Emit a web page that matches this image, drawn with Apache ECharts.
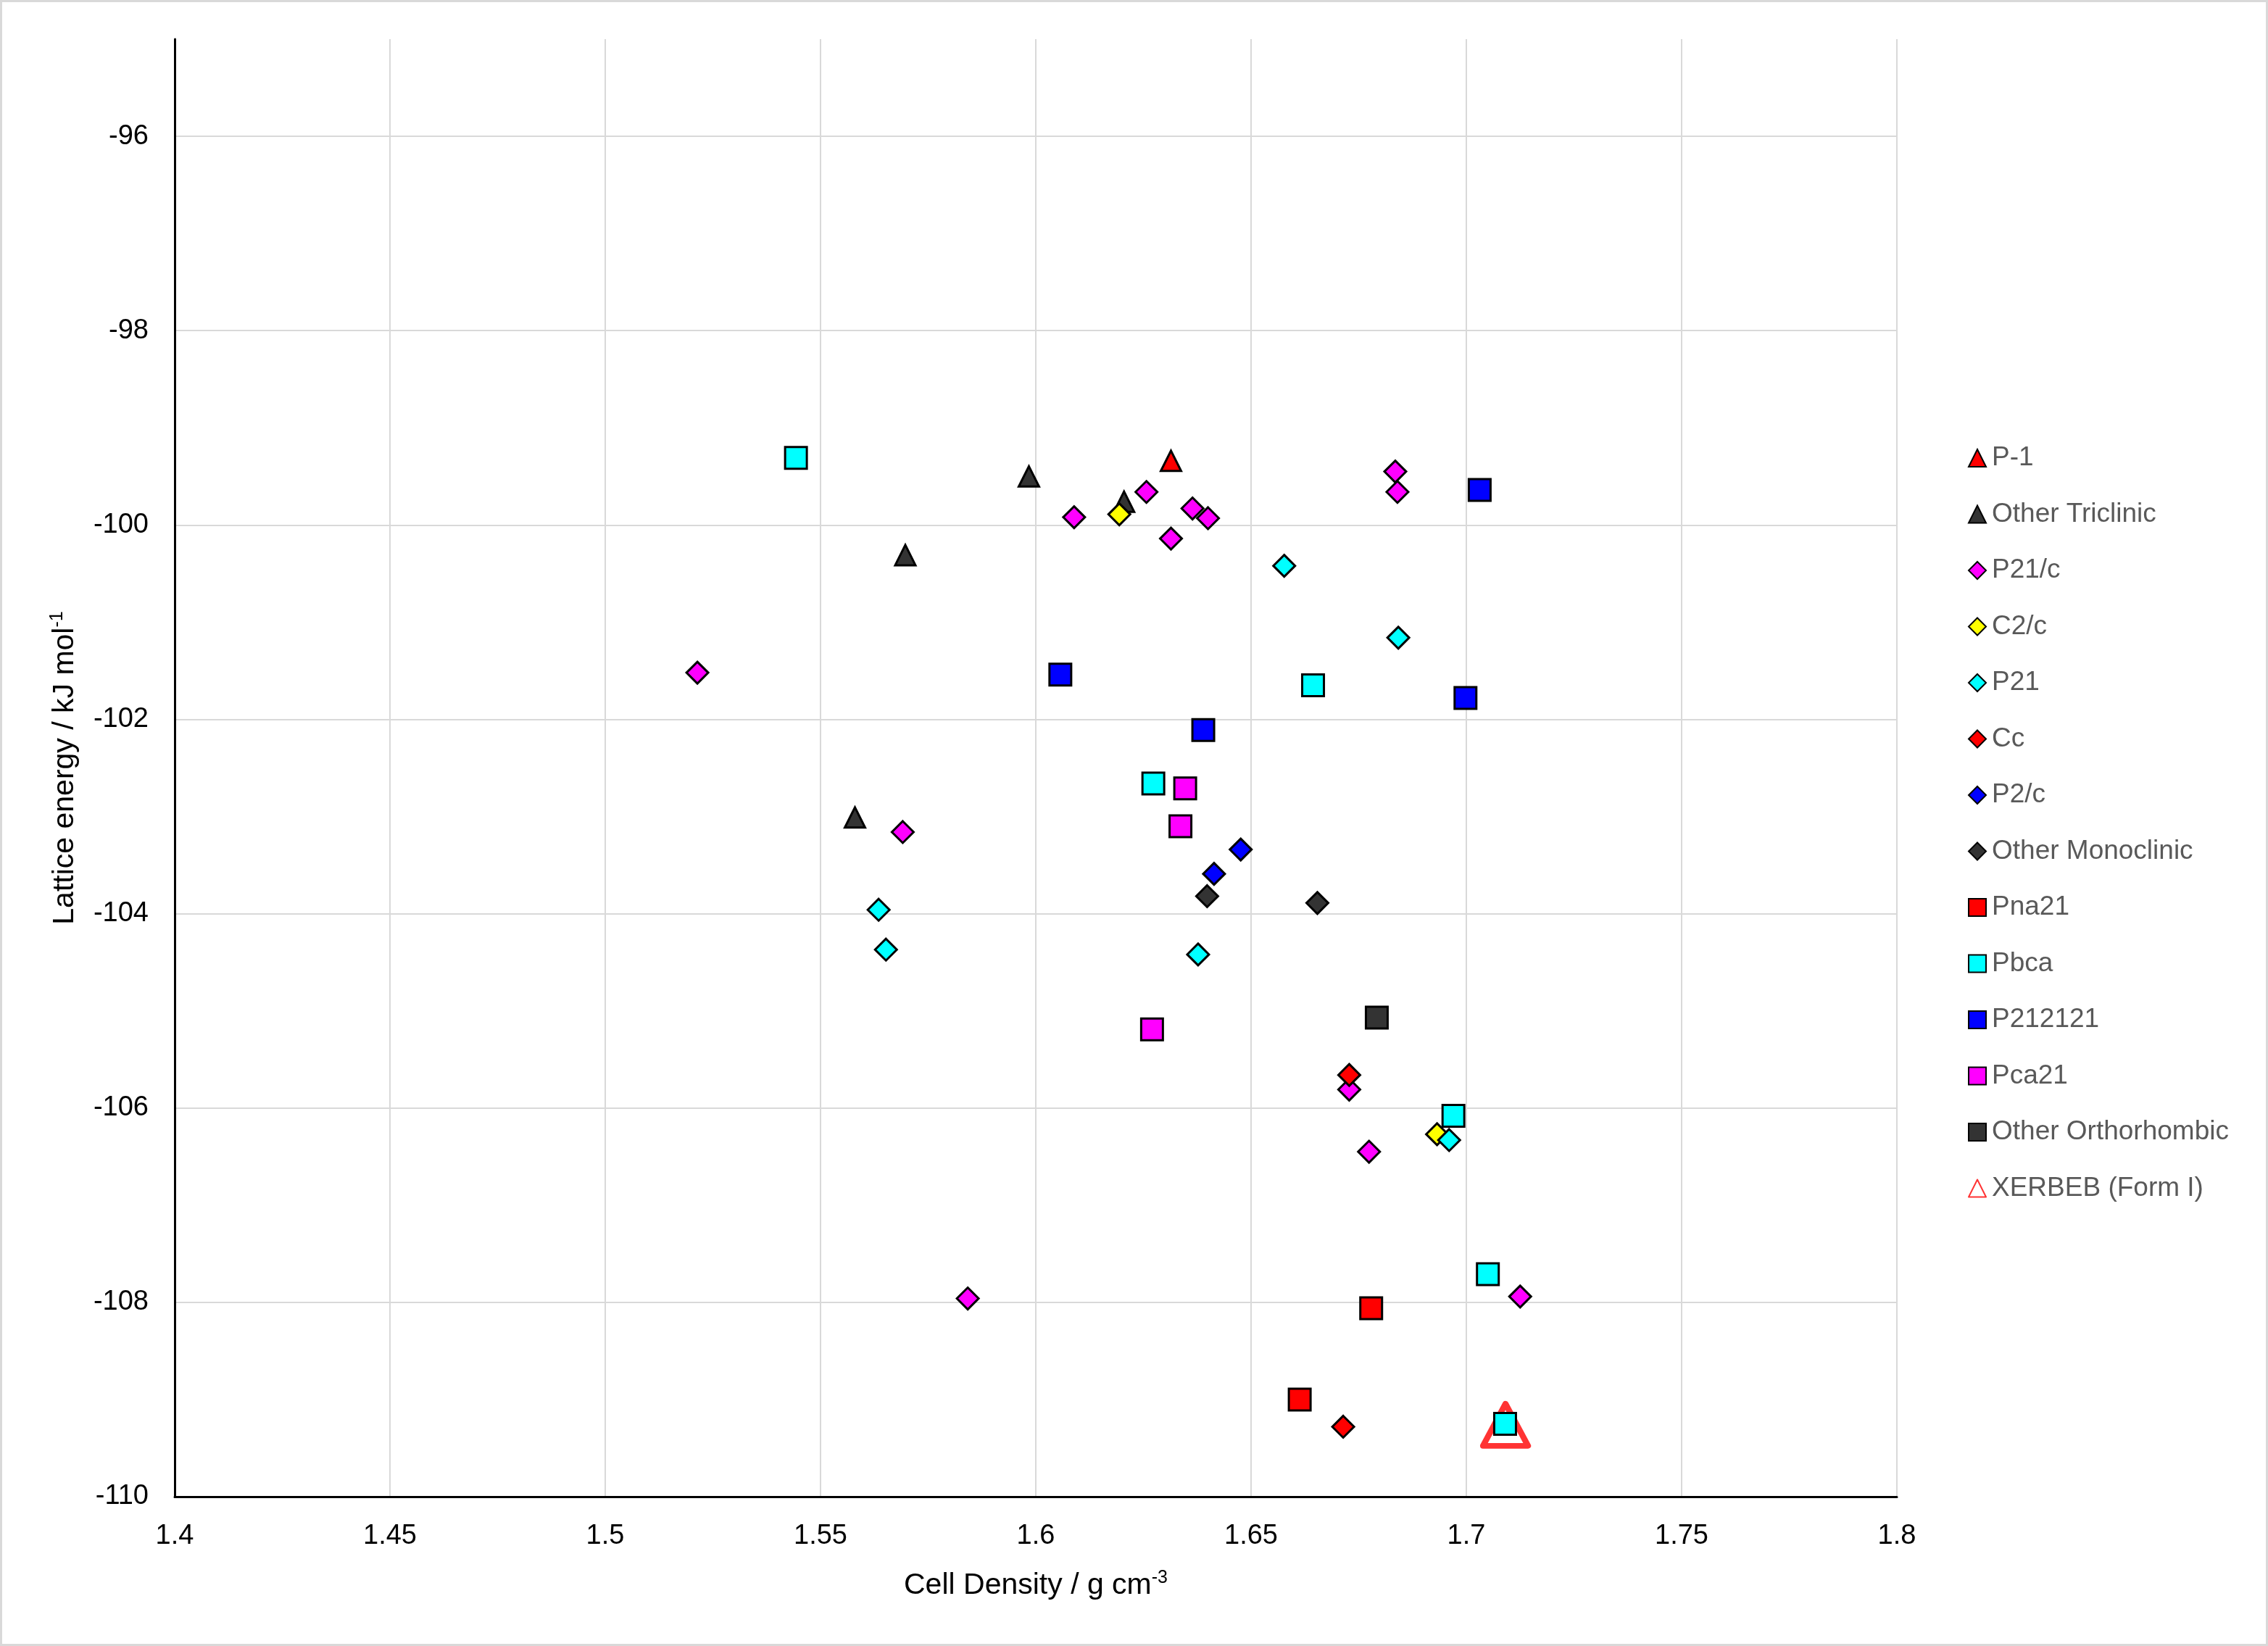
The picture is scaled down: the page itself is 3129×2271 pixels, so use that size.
<!DOCTYPE html>
<html>
<head>
<meta charset="utf-8">
<title>Lattice energy vs cell density</title>
<script src="https://cdn.jsdelivr.net/npm/echarts@6/dist/echarts.min.js"></script>
<style>
  html, body { margin: 0; padding: 0; background: #fff; }
  #chart {
    width: 3129px;
    height: 2271px;
    box-sizing: border-box;
    border: 3px solid #d9d9d9;
  }
</style>
</head>
<body>
<div id="chart"></div>
<script>
// [density g/cm3, lattice energy kJ/mol] per space group
const p1 = [[1.6314, -99.34]]
const otherTriclinic = [[1.5984, -99.50], [1.6205, -99.76], [1.5697, -100.31], [1.5580, -103.01]]
const p21c = [
  [1.6835, -99.45], [1.6840, -99.66], [1.6257, -99.66], [1.6089, -99.92],
  [1.6364, -99.83], [1.6400, -99.93], [1.6314, -100.14], [1.5214, -101.52],
  [1.5691, -103.16], [1.6728, -105.81], [1.6774, -106.45], [1.5842, -107.96],
  [1.7125, -107.94]
]
const c2c = [[1.6194, -99.89], [1.6932, -106.27]]
const p21 = [[1.6577, -100.42], [1.6842, -101.16], [1.5635, -103.96], [1.5652, -104.37], [1.6377, -104.42], [1.6960, -106.33]]
const cc = [[1.6728, -105.66], [1.6714, -109.28]]
const p2c = [[1.6476, -103.34], [1.6414, -103.59]]
const otherMonoclinic = [[1.6398, -103.82], [1.6654, -103.89]]
const pna21 = [[1.6779, -108.06], [1.6613, -109.00]]
const pbca = [[1.5443, -99.31], [1.6644, -101.65], [1.6273, -102.66], [1.6970, -106.08], [1.7050, -107.71], [1.7090, -109.25]]
const p212121 = [[1.7031, -99.64], [1.6057, -101.54], [1.6389, -102.11], [1.6998, -101.78]]
const pca21 = [[1.6347, -102.71], [1.6336, -103.10], [1.6270, -105.19]]
const otherOrthorhombic = [[1.6792, -105.07]]
const xerbeb = [[1.7091, -109.26]]

const FONT = '"Liberation Sans", Arial, sans-serif'
const DARK = '#333333'

const mk = (name, data, symbol, color) => ({
  name,
  type: 'scatter',
  data,
  symbol,
  symbolSize: symbol === 'triangle' ? 28 : 30,
  z: 3,
  itemStyle: { color, borderColor: '#000', borderWidth: 3, borderJoin: 'miter', opacity: 1 },
  emphasis: { disabled: true }
})

const series = [
  mk('P-1', p1, 'triangle', '#ff0000'),
  mk('Other Triclinic', otherTriclinic, 'triangle', DARK),
  mk('P21/c', p21c, 'diamond', '#ff00ff'),
  mk('C2/c', c2c, 'diamond', '#ffff00'),
  mk('P21', p21, 'diamond', '#00ffff'),
  mk('Cc', cc, 'diamond', '#ff0000'),
  mk('P2/c', p2c, 'diamond', '#0000ff'),
  mk('Other Monoclinic', otherMonoclinic, 'diamond', DARK),
  mk('Pna21', pna21, 'rect', '#ff0000'),
  mk('Pbca', pbca, 'rect', '#00ffff'),
  mk('P212121', p212121, 'rect', '#0000ff'),
  mk('Pca21', pca21, 'rect', '#ff00ff'),
  mk('Other Orthorhombic', otherOrthorhombic, 'rect', DARK),
  {
    name: 'XERBEB (Form I)',
    type: 'scatter',
    data: xerbeb,
    symbol: 'triangle',
    symbolSize: [62, 58],
    z: 2,
    itemStyle: { color: 'rgba(255,255,255,0)', borderColor: '#ff0000', borderWidth: 8, borderJoin: 'round' },
    emphasis: { disabled: true }
  }
]

const chart = echarts.init(document.getElementById('chart'))

chart.setOption({
  animation: false,
  backgroundColor: '#fff',
  grid: { left: 238, right: 509, top: 51, bottom: 203, containLabel: false },
  xAxis: {
    type: 'value',
    min: 1.4,
    max: 1.8,
    interval: 0.05,
    name: 'Cell Density / g cm{sup|-3}',
    nameLocation: 'middle',
    nameGap: 100,
    nameTextStyle: {
      color: '#000', fontFamily: FONT, fontSize: 41, lineHeight: 46,
      rich: { sup: { fontFamily: FONT, fontSize: 25, lineHeight: 22, verticalAlign: 'top', color: '#000' } }
    },
    axisLine: { onZero: false, lineStyle: { color: '#000', width: 3 } },
    axisTick: { show: false },
    axisLabel: { color: '#000', fontFamily: FONT, fontSize: 38, margin: 36 },
    splitLine: { show: true, lineStyle: { color: '#d9d9d9', width: 2 } }
  },
  yAxis: {
    type: 'value',
    min: -110,
    max: -95,
    interval: 2,
    name: 'Lattice energy / kJ mol{sup|-1}',
    nameLocation: 'middle',
    nameGap: 128,
    nameTextStyle: {
      color: '#000', fontFamily: FONT, fontSize: 41, lineHeight: 46,
      rich: { sup: { fontFamily: FONT, fontSize: 25, lineHeight: 22, verticalAlign: 'top', color: '#000' } }
    },
    axisLine: { show: true, onZero: false, lineStyle: { color: '#000', width: 3 } },
    axisTick: { show: false },
    axisLabel: { color: '#000', fontFamily: FONT, fontSize: 38, margin: 36, showMaxLabel: false },
    splitLine: { show: true, showMaxLine: false, lineStyle: { color: '#d9d9d9', width: 2 } }
  },
  legend: {
    orient: 'vertical',
    left: 2707,
    top: 604,
    itemWidth: 24,
    itemHeight: 24,
    itemGap: 37.5,
    selectedMode: false,
    textStyle: { color: '#595959', fontFamily: FONT, fontSize: 37, lineHeight: 40, padding: [0, 0, 0, 3] },
    data: series.map(s => s.name)
  },
  series
})
</script>
</body>
</html>
